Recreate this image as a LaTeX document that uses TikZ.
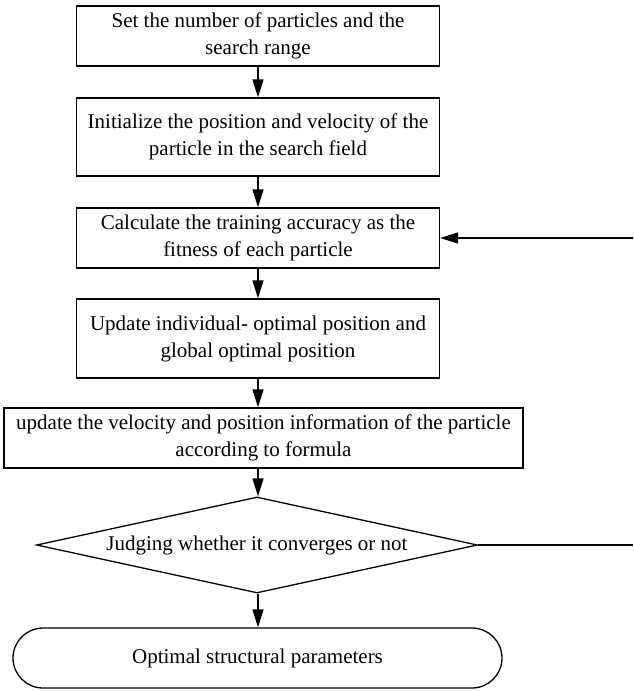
\documentclass[tikz,border=0pt]{standalone}
\usepackage{fontspec}
\setmainfont{Liberation Serif}
\usetikzlibrary{arrows.meta,shapes.geometric}
\tikzset{arrow/.style={draw,-{Triangle[length=18pt,width=11pt]},line width=1.3pt,#1}}
\tikzset{arrow/.default={black}}
\tikzset{stepbox/.style={draw,line width=1.3pt,align=center,minimum width=#1,minimum height=60pt,inner sep=0pt}}
\tikzset{judge/.style={draw,diamond,aspect=4.6,line width=1.3pt,minimum width=441pt,minimum height=96pt,inner sep=0pt}}
\tikzset{endbox/.style={draw,rounded corners=30pt,line width=1.3pt,minimum width=489pt,minimum height=60pt,inner sep=0pt}}
\tikzset{font={\fontsize{21pt}{27pt}\selectfont}}

\begin{document}
\begin{tikzpicture}[x=1pt,y=-1pt]
        \useasboundingbox (0,0) rectangle (633,691);
        \node[stepbox=363pt] (set) at (258,36) {Set the number of particles and the\\search range};
        \node[stepbox=363pt,minimum height=78pt] (init) at (258,137) {Initialize the position and velocity of the\\particle in the search field};
        \node[stepbox=363pt] (fit) at (258,238) {Calculate the training accuracy as the\\fitness of each particle};
        \node[stepbox=363pt,minimum height=79pt] (best) at (258,338.5) {Update individual- optimal position and\\global optimal position};
        \node[stepbox=519pt] (upd) at (263.5,438) {update the velocity and position information of the particle\\according to formula};
        \node[judge] (conv) at (257,545) {Judging whether it converges or not};
        \node[endbox] (opt) at (257.5,658) {Optimal structural parameters};
        \coordinate (back) at (633,238);
        \coordinate (loop) at (633,545);
        \path[arrow] (set.south) -- (init.north);
        \path[arrow] (init.south) -- (fit.north);
        \path[arrow] (fit.south) -- (best.north);
        \path[arrow] (best.south) -- (best.south |- upd.north);
        \path[arrow] (best.south |- upd.south) -- (best.south |- conv.north);
        \path[arrow] (best.south |- conv.south) -- (best.south |- opt.north);
        \path[draw,line width=1.3pt] (conv.east) -- (loop);
        \path[arrow] (back) -- (fit.east);
    \end{tikzpicture}
\end{document}
